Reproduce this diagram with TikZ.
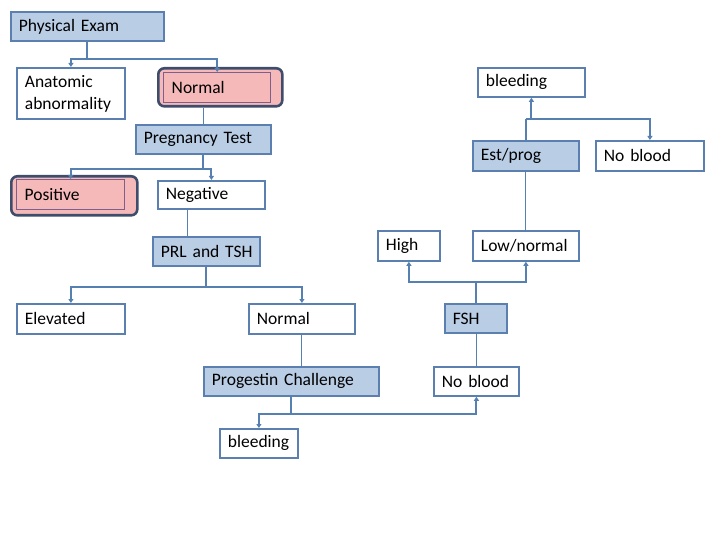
\documentclass[tikz,border=0pt]{standalone}
\usepackage{fontspec}
\setmainfont{Carlito}[WordSpace=0.85]
\usetikzlibrary{arrows.meta}
\definecolor{bfill}{HTML}{B9CDE5}
\definecolor{bline}{HTML}{5B80AF}
\definecolor{pfill}{HTML}{F5B9BA}
\definecolor{pline}{HTML}{7E5F8C}
\definecolor{oline}{HTML}{3E4D6B}
\definecolor{cline}{HTML}{5580B0}
\tikzset{
  box/.style={draw=bline, line width=1.8pt, fill=white, anchor=north west, inner xsep=8pt, inner ysep=0pt,
    align=left, font=\fontsize{17.5}{22}\selectfont, text=black},
  bluebox/.style={box, fill=bfill},
  pinkbox/.style={box, draw=pline, line width=1.4pt, fill=pfill},
  outerbox/.style={draw=oline, line width=2.6pt, fill=pfill, rounded corners=6pt, anchor=north west, inner sep=0pt},
  conn/.style={draw=cline, line width=2pt},
  thin/.style={draw=cline, line width=1.1pt},
  arr/.style={conn, -{Triangle[length=4pt,width=5pt]}},
}
\begin{document}
\begin{tikzpicture}[x=1pt,y=-1pt]
\useasboundingbox (0,0) rectangle (720,540);
% nodes
\node[bluebox, minimum width=153pt, minimum height=29pt, text width=137pt] (pe) at (10,11) {Physical Exam};
\node[box, minimum width=108pt, minimum height=51pt, text width=92pt] (anat) at (16,67) {Anatomic\\abnormality};
\node[outerbox, minimum width=124pt, minimum height=38pt] (normout) at (157,67) {};
\node[pinkbox, minimum width=107pt, minimum height=30pt, text width=91pt] (normin) at (163,72) {Normal};
\node[box, minimum width=107pt, minimum height=29pt, text width=91pt] (bleedtop) at (477,67) {bleeding};
\node[bluebox, minimum width=135pt, minimum height=29pt, text width=119pt] (preg) at (135,124) {Pregnancy Test};
\node[bluebox, minimum width=106pt, minimum height=30pt, text width=90pt] (est) at (472,140) {Est/prog};
\node[box, minimum width=108pt, minimum height=30pt, text width=92pt] (nbright) at (595,140) {No blood};
\node[outerbox, minimum width=126pt, minimum height=39pt] (posout) at (10,175) {};
\node[pinkbox, minimum width=108pt, minimum height=30pt, text width=92pt] (posin) at (16,179) {Positive};
\node[box, minimum width=107pt, minimum height=28pt, text width=91pt] (neg) at (157,180) {Negative};
\node[bluebox, minimum width=107pt, minimum height=29pt, text width=91pt] (prl) at (152,236) {\mbox{PRL and TSH}};
\node[box, minimum width=62pt, minimum height=30pt, text width=46pt] (high) at (377,230) {High};
\node[box, minimum width=106pt, minimum height=30pt, text width=90pt] (low) at (472,230) {Low/normal};
\node[box, minimum width=108pt, minimum height=30pt, text width=92pt] (elev) at (16,303) {Elevated};
\node[box, minimum width=106pt, minimum height=30pt, text width=90pt] (nmid) at (248,303) {Normal};
\node[bluebox, minimum width=62pt, minimum height=29pt, text width=46pt] (fsh) at (444,303) {FSH};
\node[bluebox, minimum width=175pt, minimum height=29pt, text width=159pt] (prog) at (203,366) {Progestin Challenge};
\node[box, minimum width=85pt, minimum height=29pt, text width=69pt] (nbbot) at (433,366) {No blood};
\node[box, minimum width=78pt, minimum height=29pt, text width=62pt] (bleedbot) at (219,428) {bleeding};
% connectors
\draw[conn] (pe.south) -- ++(0,17) coordinate (j1);
\draw[arr] (j1) -| (anat.north);
\draw[arr] (j1) -| (normin.north);
\draw[thin] (normout.south -| preg.north) -- (preg.north);
\draw[conn] (preg.south) -- ++(0,14) coordinate (j2);
\draw[arr] (j2) -| (posin.north);
\draw[arr] (j2) -| (neg.north);
\draw[thin] ([xshift=-24pt]neg.south) -- ([xshift=-24pt]neg.south |- prl.north);
\draw[conn] (prl.south) -- ++(0,20) coordinate (j3);
\draw[arr] (j3) -| (elev.north);
\draw[arr] (j3) -| (nmid.north);
\draw[thin] (nmid.south) -- (nmid.south |- prog.north);
\draw[conn] (prog.south) -- ++(0,17) coordinate (j4);
\draw[arr] (j4) -| (bleedbot.north);
\draw[arr] (j4) -| (nbbot.south);
\draw[thin] (nbbot.north) -- (nbbot.north |- fsh.south);
\draw[conn] (fsh.north) -- ++(0,-21) coordinate (j5);
\draw[arr] (j5) -| (high.south);
\draw[arr] (j5) -| (low.south);
\draw[thin] (low.north) -- (low.north |- est.south);
\draw[conn] (est.north) -- ++(0,-21) coordinate (j6);
\draw[arr] (j6) -| (nbright.north);
\draw[arr] (j6 -| bleedtop.south) -- (bleedtop.south);
\end{tikzpicture}
\end{document}
